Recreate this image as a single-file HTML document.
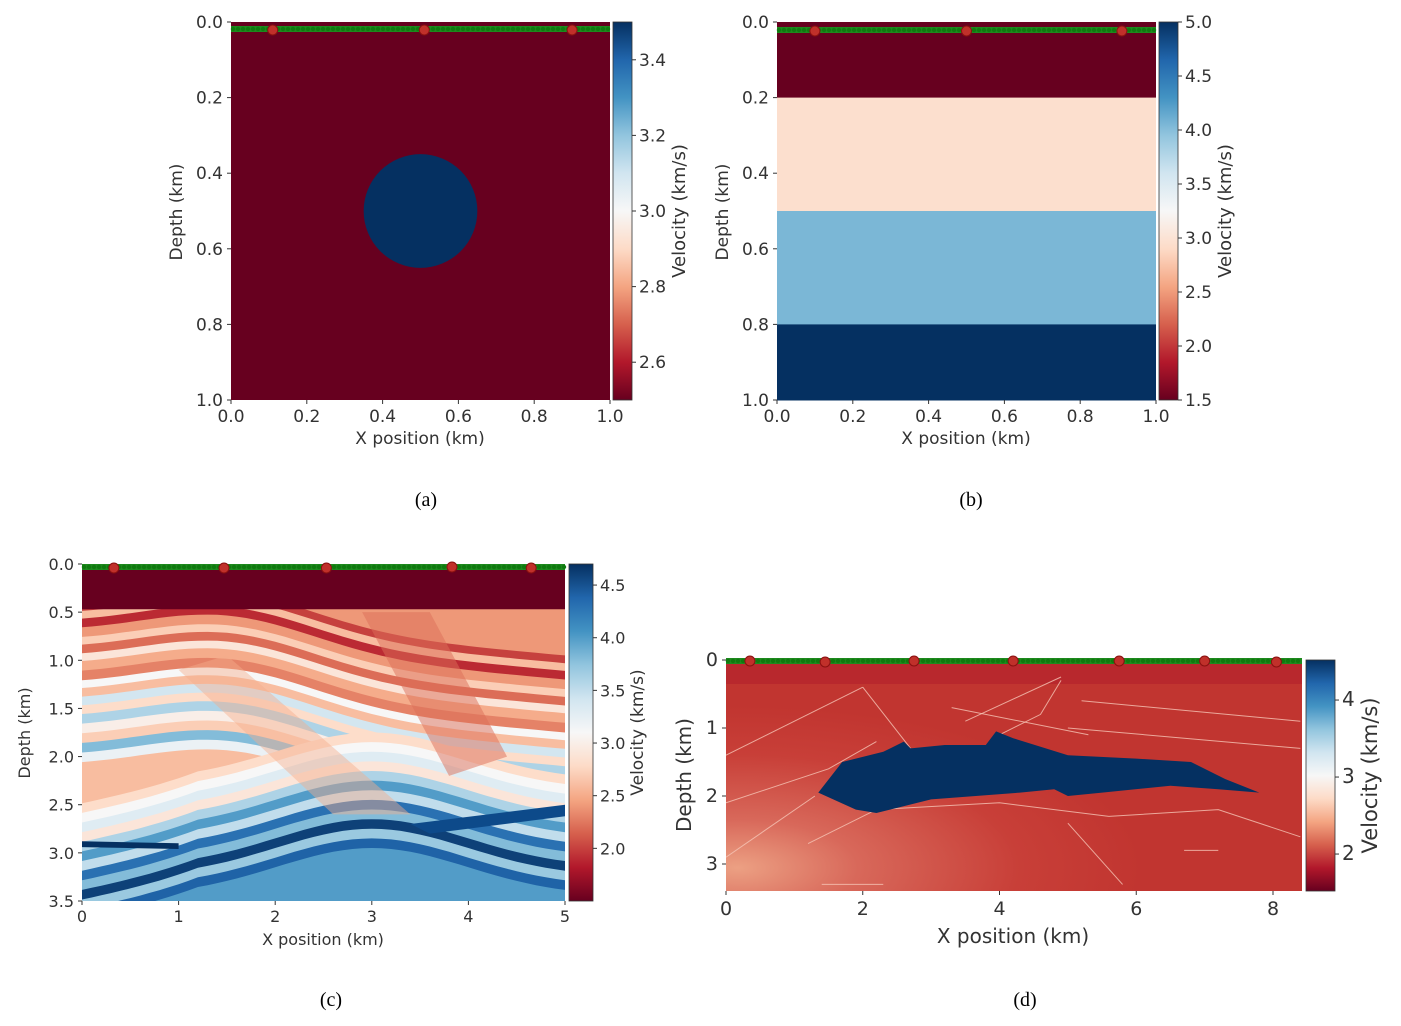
<!DOCTYPE html>
<html><head><meta charset="utf-8">
<style>
body{margin:0;background:#fff;}
svg{display:block;font-family:"DejaVu Sans","Liberation Sans",sans-serif;}
.t{font-size:16px;fill:#333;}
.cap{font-family:"Liberation Serif",serif;font-size:20px;fill:#000;}
</style></head>
<body>
<svg id="fig" width="1401" height="1026" viewBox="0 0 1401 1026" xmlns="http://www.w3.org/2000/svg">
<defs>
<linearGradient id="rdbu" x1="0" y1="1" x2="0" y2="0">
<stop offset="0" stop-color="#67001f"/><stop offset="0.1" stop-color="#b2182b"/><stop offset="0.2" stop-color="#d6604d"/><stop offset="0.3" stop-color="#f4a582"/><stop offset="0.4" stop-color="#fddbc7"/><stop offset="0.5" stop-color="#f7f7f7"/><stop offset="0.6" stop-color="#d1e5f0"/><stop offset="0.7" stop-color="#92c5de"/><stop offset="0.8" stop-color="#4393c3"/><stop offset="0.9" stop-color="#2166ac"/><stop offset="1" stop-color="#053061"/>
</linearGradient>
<radialGradient id="dbg" cx="0.02" cy="0.9" r="0.7">
<stop offset="0" stop-color="#eca083"/><stop offset="0.3" stop-color="#d8685a"/><stop offset="0.7" stop-color="#c83f38"/><stop offset="1" stop-color="#c13530"/>
</radialGradient>
<clipPath id="clipc"><rect x="82" y="564" width="483" height="337"/></clipPath>
<clipPath id="clipd"><rect x="726" y="660" width="576" height="231"/></clipPath>
</defs>
<g id="root"></g>
<text class="cap" x="426" y="506" text-anchor="middle">(a)</text>
<text class="cap" x="971" y="506" text-anchor="middle">(b)</text>
<text class="cap" x="331" y="1006" text-anchor="middle">(c)</text>
<text class="cap" x="1025" y="1006" text-anchor="middle">(d)</text>
</svg>
<script>
// ---- data ----
const aXTicks=[0,0.2,0.4,0.6,0.8,1.0];
const aYTicks=[0,0.2,0.4,0.6,0.8,1.0];
const aCbTicks=[2.6,2.8,3.0,3.2,3.4];
const aCircle=[0.5,0.5,0.15];
const aSources=[0.11,0.51,0.9];
const bLayerTops=[0,0.2,0.5,0.8];
const bLayerVel=[1.5,2.95,4.05,5.0];
const bCbTicks=[1.5,2.0,2.5,3.0,3.5,4.0,4.5,5.0];
const bSources=[0.1,0.5,0.91];
const cXTicks=[0,1,2,3,4,5];
const cYTicks=[0,0.5,1.0,1.5,2.0,2.5,3.0,3.5];
const cCbTicks=[2.0,2.5,3.0,3.5,4.0,4.5];
const cSources=[0.33,1.47,2.53,3.83,4.65];
const cBandDepths=[0.5,0.58,0.66,0.75,0.85,0.93,1.02,1.1,1.2,1.3,1.38,1.47,1.56,1.65,1.75,1.85,1.95,2.05,2.15,2.25,2.35,2.45,2.55,2.65,2.75,2.85,2.95,3.05,3.15,3.25,3.35,3.45];
const cBandVel=[2.0,2.6,1.9,2.4,2.7,2.2,2.9,2.5,2.3,3.1,2.6,3.4,2.8,3.6,3.0,2.7,3.8,3.2,2.6,2.8,3.1,3.3,2.9,3.6,4.0,3.5,4.3,3.8,4.6,3.7,4.4,4.0];
const dXTicks=[0,2,4,6,8];
const dYTicks=[0,1,2,3];
const dCbTicks=[2,3,4];
const dSources=[0.35,1.45,2.75,4.2,5.75,7.0,8.05];
const dSaltX=[1.35,1.7,2.3,2.6,2.7,3.2,3.8,3.95,4.2,5.0,6.0,6.8,7.3,7.8,7.2,6.5,5.5,5.0,4.8,4.3,3.0,2.2,1.9];
const dSaltZ=[1.95,1.5,1.35,1.2,1.3,1.25,1.25,1.05,1.15,1.4,1.45,1.5,1.75,1.95,1.9,1.85,1.95,2.0,1.9,1.95,2.05,2.25,2.2];

// ---- helpers ----
const NS="http://www.w3.org/2000/svg";
const root=document.getElementById('root');
function el(tag,attrs,parent,txt){const e=document.createElementNS(NS,tag);for(const k in attrs)e.setAttribute(k,attrs[k]);if(txt!==undefined)e.textContent=txt;(parent||root).appendChild(e);return e;}
const STOPS=["#67001f","#b2182b","#d6604d","#f4a582","#fddbc7","#f7f7f7","#d1e5f0","#92c5de","#4393c3","#2166ac","#053061"];
function hex(h){return [parseInt(h.substr(1,2),16),parseInt(h.substr(3,2),16),parseInt(h.substr(5,2),16)];}
function cmap(t){t=Math.max(0,Math.min(1,t))*10;const i=Math.min(9,Math.floor(t)),f=t-i;const a=hex(STOPS[i]),b=hex(STOPS[i+1]);return 'rgb('+a.map((v,k)=>Math.round(v+(b[k]-v)*f)).join(',')+')';}
function lin(d0,d1,r0,r1){return v=>r0+(v-d0)/(d1-d0)*(r1-r0);}

function axes(g,x,y,fx,fy,xt,yt,fmtx,fmty,fs){
  xt.forEach(v=>{const t=el('text',{class:'t',x:fx(v),y:y+fs+5,'text-anchor':'middle',style:'font-size:'+fs+'px'},g,fmtx(v));el('line',{x1:fx(v),x2:fx(v),y1:y,y2:y+4,stroke:'#333'},g);});
  yt.forEach(v=>{const t=el('text',{class:'t',x:x-8,y:fy(v)+6,'text-anchor':'end',style:'font-size:'+fs+'px'},g,fmty(v));el('line',{x1:x-4,x2:x,y1:fy(v),y2:fy(v),stroke:'#333'},g);});
}
function colorbar(g,x,w,y0,y1,vmin,vmax,ticks,fmt,label,fs,loff){
  const cb=el('rect',{x:x,y:y0,width:w,height:y1-y0,fill:'url(#rdbu)',stroke:'#333','stroke-width':0.8},g);
  
  const fy=lin(vmin,vmax,y1,y0);
  ticks.forEach(v=>{el('line',{x1:x+w,x2:x+w+4,y1:fy(v),y2:fy(v),stroke:'#333'},g);const t=el('text',{class:'t',x:x+w+7,y:fy(v)+6,style:'font-size:'+fs+'px'},g,fmt(v));});
  const lx=x+w+loff,ly=(y0+y1)/2;
  const t=el('text',{class:'t',x:lx,y:ly,'text-anchor':'middle',transform:'rotate(-90 '+lx+' '+ly+')',style:'font-size:'+(fs+1)+'px'},g,label);
  
}
function acq(g,x0,x1,yline,fx,srcs,r){
  el('rect',{x:x0,y:yline-3,width:x1-x0,height:6,fill:'#1e8a1e'},g);
  for(let x=x0+2;x<x1;x+=5)el('circle',{cx:x,cy:yline,r:2.2,fill:'#0f7a0f'},g);
  srcs.forEach(s=>{const c=el('circle',{cx:fx(s),cy:yline+(Math.round(s*10)%2),r:r,fill:'#c0302a',stroke:'#8a1010','stroke-width':1},g);});
}
function labels(g,cx,y,xl,lx,cy,yl,fs){
  const a=el('text',{class:'t',x:cx,y:y,'text-anchor':'middle',style:'font-size:'+fs+'px'},g,xl);
  const b=el('text',{class:'t',x:lx,y:cy,'text-anchor':'middle',transform:'rotate(-90 '+lx+' '+cy+')',style:'font-size:'+fs+'px'},g,yl);
}
const f1=v=>v.toFixed(1);

// ---- panel a ----
(function(){
  const g=el('g',{});
  const fx=lin(0,1,231,610),fy=lin(0,1,22,400);
  const bg=el('rect',{x:231,y:22,width:379,height:378,fill:'#67001f'},g);
  const c=el('circle',{cx:fx(aCircle[0]),cy:fy(aCircle[1]),r:fx(aCircle[2])-fx(0),fill:'#053061'},g);
  acq(g,231,610,29,fx,aSources,5);
  axes(g,231,400,fx,fy,aXTicks,aYTicks,f1,f1,17);
  labels(g,420,444,'X position (km)',182,212,'Depth (km)',17);
  colorbar(g,613,19,22,400,2.5,3.5,aCbTicks,f1,'Velocity (km/s)',17,53);
})();

// ---- panel b ----
(function(){
  const g=el('g',{});
  const fx=lin(0,1,777,1156),fy=lin(0,1,22,400);
  bLayerTops.forEach((t,i)=>{const b=i+1<bLayerTops.length?bLayerTops[i+1]:1;const r=el('rect',{x:777,y:fy(t),width:379,height:fy(b)-fy(t)+0.5,fill:cmap((bLayerVel[i]-1.5)/3.5)},g);});
  acq(g,777,1156,30,fx,bSources,5);
  axes(g,777,400,fx,fy,aXTicks,aYTicks,f1,f1,17);
  labels(g,966,444,'X position (km)',728,212,'Depth (km)',17);
  colorbar(g,1159,19,22,400,1.5,5.0,bCbTicks,f1,'Velocity (km/s)',17,53);
})();

// ---- panel c ----
(function(){
  const g=el('g',{});
  const fx=lin(0,5,82,565),fy=lin(0,3.5,564,901);
  const vm=v=>cmap((v-1.5)/3.2);
  const m=el('g',{'clip-path':'url(#clipc)'},g);
  el('rect',{x:82,y:564,width:483,height:337,fill:vm(2.4)},m);
  for(let i=0;i<cBandDepths.length;i++){
    const d=cBandDepths[i];let pts=[];
    for(let k=0;k<=50;k++){const x=k/10;let z=d;
      if(d<2.2){z=d+0.45*(x/5)-0.35*Math.exp(-Math.pow((x-1.5)/1.3,2));}
      else{z=d-0.5*Math.exp(-Math.pow((x-3)/1.4,2))+0.2*(x<1.2?1.2-x:0);}
      pts.push(fx(x).toFixed(1)+','+fy(z).toFixed(1));}
    el('polygon',{points:pts.join(' ')+' 565,905 82,905',fill:vm(cBandVel[i])},m);
  }
  el('polygon',{points:[fx(1.0)+','+fy(1.1),fx(1.5)+','+fy(0.95),fx(3.4)+','+fy(2.6),fx(2.6)+','+fy(2.6)].join(' '),fill:vm(2.5),opacity:0.45},m);
  el('polygon',{points:[fx(2.9)+','+fy(0.5),fx(3.6)+','+fy(0.5),fx(4.4)+','+fy(2.0),fx(3.8)+','+fy(2.2)].join(' '),fill:vm(2.2),opacity:0.5},m);
  el('polygon',{points:[fx(0)+','+fy(2.88),fx(1)+','+fy(2.9),fx(1)+','+fy(2.96),fx(0)+','+fy(2.94)].join(' '),fill:'#053061'},m);
  el('polygon',{points:[fx(3.4)+','+fy(2.7),fx(5)+','+fy(2.5),fx(5)+','+fy(2.62),fx(3.6)+','+fy(2.8)].join(' '),fill:'#0d4a8a'},m);
  el('rect',{x:82,y:564,width:483,height:fy(0.47)-564,fill:'#67001f'},m);
  acq(g,82,565,567,fx,cSources,5);
  axes(g,82,901,fx,fy,cXTicks,cYTicks,v=>String(v),f1,16);
  labels(g,323,945,'X position (km)',30,733,'Depth (km)',16);
  colorbar(g,569,24,564,901,1.5,4.7,cCbTicks,f1,'Velocity (km/s)',16,50);
})();

// ---- panel d ----
(function(){
  const g=el('g',{});
  const fx=lin(0,8,726,1273),fy=lin(0,3,660,864);
  const m=el('g',{'clip-path':'url(#clipd)'},g);
  el('rect',{x:726,y:660,width:576,height:231,fill:'url(#dbg)'},m);
  el('rect',{x:726,y:660,width:576,height:24,fill:'#b21f2c',opacity:0.6},m);
  const L=[[[0,1.4],[2,0.4]],[[0,2.1],[1.5,1.6],[2.2,1.2]],[[2,0.4],[2.7,1.3]],[[4.9,0.3],[4.6,0.8],[4.0,1.1]],[[5.2,0.6],[8.4,0.9]],[[5,1.0],[8.4,1.3]],[[0,2.9],[1.3,2.0]],[[1.2,2.7],[2.2,2.2],[4,2.1],[5.6,2.3],[7.2,2.2],[8.4,2.6]],[[5.0,2.4],[5.8,3.3]],[[3.3,0.7],[5.3,1.1]],[[1.4,3.3],[2.3,3.3]],[[6.7,2.8],[7.2,2.8]],[[3.5,0.9],[4.9,0.25]]];
  L.forEach(l=>el('polyline',{points:l.map(p=>fx(p[0])+','+fy(p[1])).join(' '),fill:'none',stroke:'#f6c6b6','stroke-width':1,opacity:0.8},m));
  const salt=el('polygon',{points:dSaltX.map((x,i)=>fx(x).toFixed(1)+','+fy(dSaltZ[i]).toFixed(1)).join(' '),fill:'#053061'},m);
  
  acq(g,726,661,661,fx,[],5);
  acq(g,726,1302,661,fx,dSources,5);
  axes(g,726,891,fx,fy,dXTicks,dYTicks,v=>String(v),v=>String(v),19);
  labels(g,1013,943,'X position (km)',691,775,'Depth (km)',20);
  colorbar(g,1306,29,660,891,1.52,4.52,dCbTicks,v=>String(v),'Velocity (km/s)',20,42);
})();
</script>
</body></html>
